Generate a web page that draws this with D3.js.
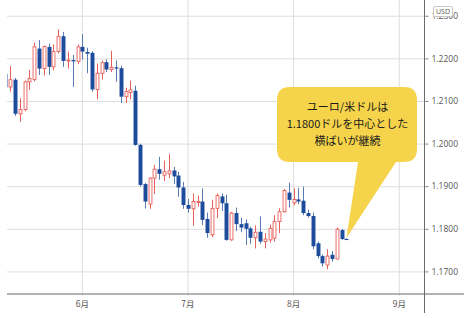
<!DOCTYPE html>
<html>
<head>
<meta charset="utf-8">
<script src="https://cdn.jsdelivr.net/npm/d3@7"></script>
<style>
  html, body { margin: 0; padding: 0; background: #fff; }
  svg { display: block; }
</style>
</head>
<body>
<svg id="chart" width="470" height="318"></svg>
<script>
// EUR/USD daily candles, 2021-05-10 .. 2021-08-17 (one per trading day)
const firstSession = "2021-05-10";
const lastCalendarDay = "2021-09-10";
const openVals  = [1.2163,1.2133,1.2150,1.2070,1.2080,1.2145,1.2150,1.2223,1.2176,1.2227,1.2180,1.2216,1.2252,1.2194,1.2196,1.2193,
                   1.2227,1.2215,1.2213,1.2127,1.2165,1.2191,1.2174,1.2179,1.2177,1.2110,1.2120,1.2124,1.1997,1.1905,1.1858,1.1919,1.1940,1.1926,1.1929,1.1937,1.1925,1.1897,
                   1.1856,1.1847,1.1862,1.1864,1.1823,1.1786,1.1848,1.1876,1.1860,1.1774,1.1837,1.1811,1.1813,1.1801,1.1779,1.1793,1.1770,1.1774,1.1778,1.1817,1.1840,1.1885,
                   1.1861,1.1869,1.1866,1.1837,1.1830,1.1766,1.1736,1.1715,1.1739,1.1729,1.1797,1.1776];
const highVals  = [1.2180,1.2182,1.2154,1.2106,1.2148,1.2173,1.2237,1.2243,1.2230,1.2235,1.2233,1.2268,1.2262,1.2216,1.2208,1.2232,
                   1.2257,1.2225,1.2217,1.2188,1.2195,1.2198,1.2218,1.2195,1.2183,1.2131,1.2148,1.2136,1.2000,1.1908,1.1921,1.1950,1.1969,1.1960,1.1976,1.1945,1.1934,1.1910,
                   1.1870,1.1883,1.1878,1.1895,1.1838,1.1868,1.1883,1.1883,1.1880,1.1840,1.1850,1.1826,1.1822,1.1805,1.1808,1.1829,1.1790,1.1810,1.1832,1.1848,1.1893,1.1908,
                   1.1895,1.1896,1.1899,1.1845,1.1838,1.1770,1.1740,1.1752,1.1748,1.1803,1.1800,1.1778];
const lowVals   = [1.2130,1.2122,1.2065,1.2051,1.2076,1.2126,1.2146,1.2161,1.2160,1.2161,1.2172,1.2212,1.2180,1.2176,1.2133,1.2187,
                   1.2197,1.2165,1.2122,1.2104,1.2150,1.2168,1.2168,1.2145,1.2095,1.2095,1.2104,1.1995,1.1899,1.1848,1.1847,1.1882,1.1915,1.1912,1.1919,1.1905,1.1875,1.1847,
                   1.1838,1.1807,1.1852,1.1809,1.1779,1.1780,1.1825,1.1842,1.1772,1.1772,1.1795,1.1792,1.1762,1.1765,1.1754,1.1765,1.1754,1.1768,1.1770,1.1790,1.1838,1.1850,
                   1.1855,1.1858,1.1832,1.1826,1.1752,1.1730,1.1711,1.1705,1.1723,1.1729,1.1774,1.1775];
const closeVals = [1.2132,1.2150,1.2070,1.2080,1.2145,1.2153,1.2227,1.2176,1.2228,1.2180,1.2216,1.2251,1.2194,1.2196,1.2193,1.2227,
                   1.2216,1.2211,1.2127,1.2165,1.2190,1.2174,1.2179,1.2176,1.2110,1.2122,1.2126,1.1997,1.1903,1.1864,1.1919,1.1940,1.1929,1.1934,1.1936,1.1923,1.1897,1.1856,
                   1.1847,1.1864,1.1864,1.1821,1.1790,1.1848,1.1878,1.1860,1.1774,1.1837,1.1811,1.1803,1.1800,1.1779,1.1792,1.1770,1.1776,1.1801,1.1817,1.1840,1.1890,1.1868,
                   1.1869,1.1864,1.1837,1.1830,1.1759,1.1736,1.1719,1.1736,1.1729,1.1799,1.1776,1.1775];

const priceTicks = [1.17, 1.18, 1.19, 1.20, 1.21, 1.22, 1.23];
const monthLabels = ["6月", "7月", "8月", "9月"];
const monthStarts = ["2021-06-01", "2021-07-01", "2021-08-02", "2021-09-01"];
const unitLabel = "USD";
const calloutLines = ["ユーロ/米ドルは", "1.1800ドルを中心とした", "横ばいが継続"];

// trading calendar (weekdays) used as the x position index
const parse = d3.utcParse("%Y-%m-%d");
const fmt = d3.utcFormat("%Y-%m-%d");
const calendar = d3.utcDay.range(parse(firstSession), d3.utcDay.offset(parse(lastCalendarDay), 1))
  .filter(d => d.getUTCDay() !== 0 && d.getUTCDay() !== 6)
  .map(fmt);
const dayIndex = new Map(calendar.map((d, i) => [d, i]));

const candles = openVals.map((o, i) => ({
  date: calendar[i], i, open: o, high: highVals[i], low: lowVals[i], close: closeVals[i]
}));

const plot = { left: 7, right: 424, top: 0, bottom: 294 };

const x = d3.scaleLinear().domain([0.32, 87.14]).range([plot.left, plot.right]);
const y = d3.scaleLinear().domain([1.1647, 1.2337]).range([plot.bottom, plot.top]);
const step = x(1) - x(0);
const downW = step * 0.82;
const upW = step * 0.6;

const svg = d3.select("#chart");
const numFont = "'Segoe UI', 'Open Sans', 'Noto Sans CJK JP', sans-serif";
const jpFont = "'Noto Sans CJK JP', sans-serif";

// horizontal grid
svg.append("g")
  .attr("transform", `translate(${plot.right},0)`)
  .call(d3.axisLeft(y).tickValues(priceTicks).tickSize(plot.right - plot.left).tickFormat(""))
  .call(g => g.select(".domain").remove())
  .call(g => g.selectAll("line").attr("stroke", "#dedede"));

// vertical month grid
const monthX = monthStarts.map(d => x(dayIndex.get(d)));
svg.append("g").selectAll("line")
  .data(monthX)
  .join("line")
  .attr("x1", d => d).attr("x2", d => d)
  .attr("y1", plot.top).attr("y2", plot.bottom + 2)
  .attr("stroke", "#dedede");

// candles
svg.append("clipPath").attr("id", "plotClip")
  .append("rect").attr("x", plot.left).attr("y", plot.top)
  .attr("width", plot.right - plot.left).attr("height", plot.bottom - plot.top);
const gC = svg.append("g").attr("clip-path", "url(#plotClip)");

const up = d => d.close >= d.open;
const upColor = "#e8605c";
const downColor = "#1d4c9c";
const downWick = "#5a7cb6";
const cx = d => Math.round(x(d.i)) + 0.5;

const cg = gC.selectAll("g.c").data(candles).join("g").attr("class", "c");
cg.append("line")
  .attr("x1", cx).attr("x2", cx)
  .attr("y1", d => y(d.high)).attr("y2", d => y(d.low))
  .attr("stroke", d => up(d) ? upColor : downWick)
  .attr("stroke-width", 1);
cg.append("rect")
  .attr("x", d => cx(d) - (up(d) ? upW : downW) / 2)
  .attr("width", d => up(d) ? upW : downW)
  .attr("y", d => y(Math.max(d.open, d.close)))
  .attr("height", d => Math.max(1, y(Math.min(d.open, d.close)) - y(Math.max(d.open, d.close))))
  .attr("fill", d => up(d) ? "#fff" : downColor)
  .attr("stroke", d => up(d) ? upColor : "none")
  .attr("stroke-width", 0.9);

// bottom axis line and month labels
svg.append("line")
  .attr("x1", plot.left).attr("x2", 464)
  .attr("y1", plot.bottom).attr("y2", plot.bottom)
  .attr("stroke", "#9a9a9a").attr("stroke-width", 1.5);
svg.append("g").selectAll("text")
  .data(monthLabels)
  .join("text")
  .attr("x", (d, i) => monthX[i])
  .attr("y", 307)
  .attr("text-anchor", "middle")
  .attr("font-family", jpFont)
  .attr("font-size", 8.5)
  .attr("fill", "#555")
  .text(d => d);

// right price axis
svg.append("line")
  .attr("x1", plot.right + 0.5).attr("x2", plot.right + 0.5)
  .attr("y1", 0).attr("y2", 313)
  .attr("stroke", "#6a6a6a").attr("stroke-width", 1);
svg.append("g")
  .attr("transform", `translate(${plot.right + 0.5},0)`)
  .call(d3.axisRight(y).tickValues(priceTicks).tickSize(4).tickPadding(3).tickFormat(d3.format(".4f")))
  .call(g => g.select(".domain").remove())
  .call(g => g.selectAll("line").attr("stroke", "#8a8a8a"))
  .call(g => g.selectAll("text").attr("fill", "#555").attr("font-size", 8.5).attr("font-family", numFont));

// currency tag sitting over the top tick label
const tag = svg.append("g");
tag.append("rect")
  .attr("x", 433.5).attr("y", 6.5).attr("width", 19).attr("height", 10).attr("rx", 1.5)
  .attr("fill", "#fff").attr("stroke", "#c8c8c8");
tag.append("text")
  .attr("x", 443).attr("y", 11.8)
  .attr("text-anchor", "middle").attr("dominant-baseline", "middle")
  .attr("font-family", numFont).attr("font-size", 7).attr("fill", "#555")
  .text(unitLabel);

// speech-bubble annotation pointing at the latest candle
const last = candles[candles.length - 1];
const tipX = cx(last), tipY = y(last.high) - 0.5;
const bx0 = 277, bx1 = 417, by0 = 87, by1 = 162, r = 13;
const path = d3.path();
path.moveTo(bx0 + r, by0);
path.lineTo(bx1 - r, by0);
path.quadraticCurveTo(bx1, by0, bx1, by0 + r);
path.lineTo(bx1, by1 - r);
path.quadraticCurveTo(bx1, by1, bx1 - r, by1);
path.lineTo(396, by1);
path.lineTo(tipX, tipY);
path.lineTo(358, by1);
path.lineTo(bx0 + r, by1);
path.quadraticCurveTo(bx0, by1, bx0, by1 - r);
path.lineTo(bx0, by0 + r);
path.quadraticCurveTo(bx0, by0, bx0 + r, by0);
path.closePath();
svg.append("path").attr("d", path.toString()).attr("fill", "#f5d34b");

svg.append("g").selectAll("text")
  .data(calloutLines)
  .join("text")
  .attr("x", 347.5)
  .attr("y", (d, i) => 108 + i * 16.8)
  .attr("text-anchor", "middle")
  .attr("dominant-baseline", "middle")
  .attr("font-family", jpFont)
  .attr("font-size", 11)
  .attr("fill", "#1a1a1a")
  .text(d => d);
</script>
</body>
</html>
